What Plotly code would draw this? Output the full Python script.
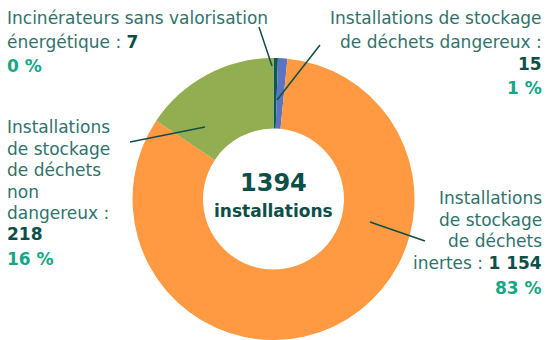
import plotly.graph_objects as go

# Installations by category
categories = [
    "Incinérateurs sans valorisation énergétique",
    "Installations de stockage de déchets dangereux",
    "Installations de stockage de déchets inertes",
    "Installations de stockage de déchets non dangereux",
]
counts = [7, 15, 1154, 218]
percents = ["0 %", "1 %", "83 %", "16 %"]
colors = ["#0b5a50", "#5b73c2", "#ff9a42", "#93ae50"]

W, H = 546, 340
FONT = "DejaVu Sans"
TXT = "#2f736c"
NUM = "#0d4f48"
PCT = "#16a688"
FS = 17


def px(x):
    return x / W


def py(y):
    return 1 - y / H


fig = go.Figure(
    go.Pie(
        labels=categories,
        values=counts,
        hole=0.5,
        sort=False,
        direction="clockwise",
        rotation=0,
        marker=dict(colors=colors, line=dict(width=0)),
        textinfo="none",
        hoverinfo="label+value+percent",
        domain=dict(x=[px(273.5 - 141), px(273.5 + 141)], y=[0, 282 / H]),
        showlegend=False,
    )
)

total = sum(counts)

ann = []


def label(x, y, text, anchor, color=TXT, size=FS, bold=False):
    if bold:
        text = "<b>" + text + "</b>"
    ann.append(
        dict(
            x=px(x), y=py(y), xref="paper", yref="paper", text=text,
            showarrow=False, xanchor=anchor, yanchor="middle", align=anchor,
            borderpad=0,
            font=dict(family=FONT, size=size, color=color),
        )
    )


# Incinérateurs (top left)
label(6, 18, "Incinérateurs sans valorisation", "left")
label(6, 42, f"énergétique : <b><span style='color:{NUM}'>{counts[0]}</span></b>", "left")
label(6, 66, percents[0], "left", PCT, FS, True)

# Stockage déchets dangereux (top right)
label(543, 18, "Installations de stockage", "right")
label(543, 42, "de déchets dangereux :", "right")
label(543, 64, str(counts[1]), "right", NUM, FS, True)
label(543, 88, percents[1], "right", PCT, FS, True)

# Stockage déchets non dangereux (left)
for i, t in enumerate(["Installations", "de stockage", "de déchets", "non", "dangereux :"]):
    label(6, 127 + 21.5 * i, t, "left")
label(6, 234, str(counts[3]), "left", NUM, FS, True)
label(6, 259, percents[3], "left", PCT, FS, True)

# Stockage déchets inertes (right)
for i, t in enumerate(["Installations", "de stockage", "de déchets"]):
    label(543, 198 + 21.5 * i, t, "right")
label(543, 263, f"inertes : <b><span style='color:{NUM}'>1 154</span></b>", "right")
label(543, 288, percents[2], "right", PCT, FS, True)

# Total in the hole
label(273.5, 183, f"{total}", "center", NUM, 24, True)
label(273.5, 211, "installations", "center", NUM, 17, True)

# Leader lines
lines = [
    (259, 27, 272, 66),
    (320, 45, 277, 100),
    (130, 142, 205, 127),
    (370, 222, 425, 241),
]
shapes = [
    dict(type="line", xref="paper", yref="paper",
         x0=px(a), y0=py(b), x1=px(c), y1=py(d),
         line=dict(color=NUM, width=1.5))
    for a, b, c, d in lines
]

fig.update_layout(
    width=W, height=H,
    margin=dict(l=0, r=0, t=0, b=0),
    paper_bgcolor="white", plot_bgcolor="white",
    annotations=ann, shapes=shapes,
)

fig.write_html("out.html")
